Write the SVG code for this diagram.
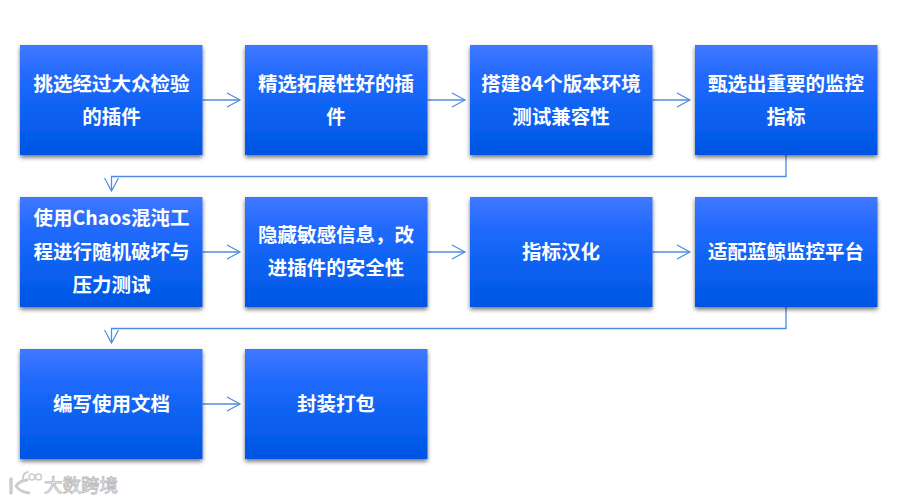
<svg xmlns="http://www.w3.org/2000/svg" width="899" height="502" viewBox="0 0 899 502">
<defs>
<linearGradient id="g" x1="0" y1="0" x2="0" y2="1"><stop offset="0" stop-color="#3f78ff"/><stop offset="0.3" stop-color="#2169fb"/><stop offset="0.6" stop-color="#0c62f2"/><stop offset="1" stop-color="#0055e2"/></linearGradient>
<filter id="s" x="-10%" y="-10%" width="120%" height="125%"><feDropShadow dx="0" dy="2.500" stdDeviation="2.200" flood-color="#000" flood-opacity="0.55"/></filter>
<marker id="a" markerUnits="userSpaceOnUse" markerWidth="16" markerHeight="18" refX="14" refY="8" orient="auto"><path d="M1 1L14 8L1 15" fill="none" stroke="#4f8be0" stroke-width="1.200"/></marker>
</defs>
<style>
.b{fill:url(#g);filter:url(#s)}
.t{font-family:"Noto Sans CJK SC","Liberation Sans",sans-serif;font-size:19.500px;font-weight:700;fill:#fff;text-anchor:middle}
.c{fill:none;stroke:#4f8be0;stroke-width:1.300}
.w{font-family:"Noto Sans CJK SC",sans-serif;font-size:18.500px;font-weight:400;fill:#fff;stroke:#bdbdbd;stroke-width:.9;paint-order:fill}
</style>
<rect width="899" height="502" fill="#fff"/>
<g id="connectors">
<path class="c" d="M202.500 100H240" marker-end="url(#a)"/>
<path class="c" d="M427.500 100H465" marker-end="url(#a)"/>
<path class="c" d="M652.500 100H690" marker-end="url(#a)"/>
<path class="c" d="M786 155V176.500H111.500V191" marker-end="url(#a)"/>
<path class="c" d="M202.500 252H240" marker-end="url(#a)"/>
<path class="c" d="M427.500 252H465" marker-end="url(#a)"/>
<path class="c" d="M652.500 252H690" marker-end="url(#a)"/>
<path class="c" d="M786 307V328.500H111.500V343" marker-end="url(#a)"/>
<path class="c" d="M202.500 404H240" marker-end="url(#a)"/>
</g>
<g id="n1"><rect class="b" x="20" y="45" width="182.500" height="110"/><text class="t" x="111.500" y="90.500">挑选经过大众检验</text><text class="t" x="111.500" y="123.500">的插件</text></g>
<g id="n2"><rect class="b" x="245" y="45" width="182.500" height="110"/><text class="t" x="336" y="90.500">精选拓展性好的插</text><text class="t" x="336" y="123.500">件</text></g>
<g id="n3"><rect class="b" x="470" y="45" width="182.500" height="110"/><text class="t" x="561" y="90.500">搭建84个版本环境</text><text class="t" x="561" y="123.500">测试兼容性</text></g>
<g id="n4"><rect class="b" x="695" y="45" width="182.500" height="110"/><text class="t" x="786" y="90.500">甄选出重要的监控</text><text class="t" x="786" y="123.500">指标</text></g>
<g id="n5"><rect class="b" x="20" y="197" width="182.500" height="110"/><text class="t" x="111.500" y="225">使用Chaos混沌工</text><text class="t" x="111.500" y="258.500">程进行随机破坏与</text><text class="t" x="111.500" y="292">压力测试</text></g>
<g id="n6"><rect class="b" x="245" y="197" width="182.500" height="110"/><text class="t" x="336" y="241.500">隐藏敏感信息，改</text><text class="t" x="336" y="275">进插件的安全性</text></g>
<g id="n7"><rect class="b" x="470" y="197" width="182.500" height="110"/><text class="t" x="561" y="258.500">指标汉化</text></g>
<g id="n8"><rect class="b" x="695" y="197" width="182.500" height="110"/><text class="t" x="786" y="258.500">适配蓝鲸监控平台</text></g>
<g id="n9"><rect class="b" x="20" y="349" width="182.500" height="110"/><text class="t" x="111.500" y="410.500">编写使用文档</text></g>
<g id="n10"><rect class="b" x="245" y="349" width="182.500" height="110"/><text class="t" x="336" y="410.500">封装打包</text></g>
<g id="watermark" fill="none" stroke="#cdcdcd" stroke-linecap="round">
<path d="M11 479V493" stroke-width="3.500"/>
<path d="M27 480Q19 481 16 486Q20 492 29 493" stroke-width="3"/>
<path d="M23 481Q22 473 28 472" stroke-width="1.800"/>
<circle cx="32" cy="477" r="3" stroke-width="1.500"/><circle cx="38.500" cy="477" r="3" stroke-width="1.500"/>
<text class="w" x="44" y="492">大数跨境</text>
</g>
</svg>
